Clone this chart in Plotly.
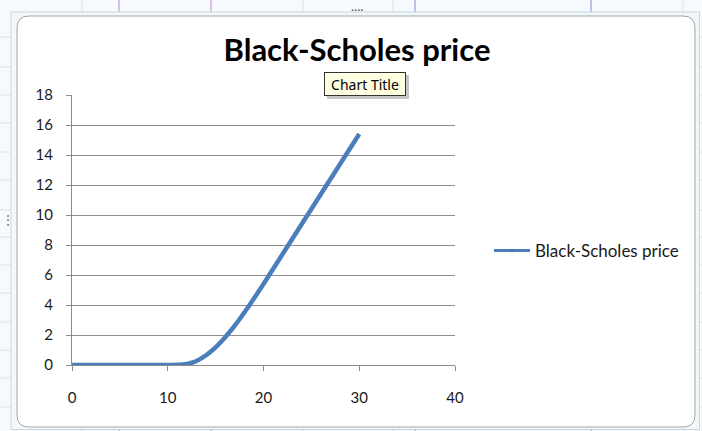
import plotly.graph_objects as go

# Underlying price and Black-Scholes call value
spot = [0, 1, 2, 3, 4, 5, 6, 7, 8, 9, 10, 10.5, 11, 11.5, 12, 12.5, 13, 13.5,
        14, 14.5, 15, 15.5, 16, 16.5, 17, 17.5, 18, 18.5, 19, 19.5, 20,
        21, 22, 23, 24, 25, 26, 27, 28, 29, 30]
price = [0, 0, 0, 0, 0, 0, 0, 0, 0, 0, 0, 0, 0.01, 0.03, 0.07, 0.15, 0.27, 0.44,
         0.65, 0.9, 1.18, 1.5, 1.85, 2.23, 2.63, 3.05, 3.5, 3.96, 4.43, 4.91, 5.4,
         6.4, 7.4, 8.4, 9.4, 10.4, 11.4, 12.4, 13.4, 14.4, 15.4]

x_ticks = [0, 10, 20, 30, 40]
y_ticks = [0, 2, 4, 6, 8, 10, 12, 14, 16, 18]

series_name = "Black-Scholes price"
chart_title = "Black-Scholes price"

W, H = 702, 431
L, R, T, B = 72, 455, 95, 365
BLUE = "#4a7ebb"
GRID = "#8c8c8c"
FONT = "Lato, 'Open Sans', sans-serif"


def px(x):
    return (x - L) / (R - L)


def py(y):
    return (B - y) / (B - T)


def rounded_rect(x0, y0, x1, y1, r):
    rx = r / (R - L)
    ry = r / (B - T)
    a, b, c, d = px(x0), px(x1), py(y0), py(y1)
    return (f"M {a + rx},{c} L {b - rx},{c} Q {b},{c} {b},{c - ry} "
            f"L {b},{d + ry} Q {b},{d} {b - rx},{d} L {a + rx},{d} "
            f"Q {a},{d} {a},{d + ry} L {a},{c - ry} Q {a},{c} {a + rx},{c} Z")


fig = go.Figure()
# the curve itself
fig.add_trace(go.Scatter(
    x=spot, y=price, mode="lines", name=series_name, showlegend=False,
    line=dict(color=BLUE, width=4.5, shape="spline", smoothing=0.7),
))
# legend entry with the thinner line and marker used by the legend key
fig.add_trace(go.Scatter(
    x=[None], y=[None], mode="lines+markers", name=series_name,
    line=dict(color=BLUE, width=3), marker=dict(color="#3f6fa8", size=3),
))

shapes = []
# worksheet cell lines around the chart object
for gx in [82, 119, 211, 303, 393, 415, 591, 683]:
    col = "#d6e2ec"
    if gx in (119, 211):
        col = "#b48ad0"
    elif gx in (415, 591):
        col = "#7a8fe0"
    shapes.append(dict(type="line", xref="paper", yref="paper",
                       x0=px(gx), x1=px(gx), y0=py(0), y1=py(12),
                       line=dict(color=col, width=1), layer="below"))
    shapes.append(dict(type="line", xref="paper", yref="paper",
                       x0=px(gx), x1=px(gx), y0=py(428), y1=py(431),
                       line=dict(color=col, width=1), layer="below"))
for gy in [37, 67, 95, 123, 152, 180, 210, 237, 265, 293, 322, 350, 378, 407]:
    for xa, xb in [(0, 11), (700, 702)]:
        shapes.append(dict(type="line", xref="paper", yref="paper",
                           x0=px(xa), x1=px(xb), y0=py(gy), y1=py(gy),
                           line=dict(color="#d6e2ec", width=1), layer="below"))
# selection frame of the chart object
shapes.append(dict(type="rect", xref="paper", yref="paper",
                   x0=px(11), x1=px(699.5), y0=py(12), y1=py(429.5),
                   line=dict(color="#c3d6e2", width=1), fillcolor="#f2f7fa",
                   layer="below"))
# chart area
shapes.append(dict(type="path", xref="paper", yref="paper",
                   path=rounded_rect(17, 16, 695, 427, 12),
                   line=dict(color="#a6a6a6", width=1), fillcolor="white",
                   layer="below"))
# tooltip shadow
shapes.append(dict(type="rect", xref="paper", yref="paper",
                   x0=px(327), x1=px(409), y0=py(75), y1=py(99),
                   line=dict(width=0), fillcolor="rgba(0,0,0,0.22)"))

annotations = [
    dict(xref="paper", yref="paper", x=px(365), y=py(84),
         xanchor="center", yanchor="middle", width=76, height=18,
         text="Chart Title", showarrow=False,
         font=dict(family="'Noto Sans', sans-serif", size=14, color="#000"),
         bgcolor="#ffffe1", bordercolor="#333", borderwidth=1, borderpad=2),
    dict(xref="paper", yref="paper", x=px(357), y=py(9),
         xanchor="center", yanchor="middle", text="····",
         showarrow=False, font=dict(size=12, color="#666")),
    dict(xref="paper", yref="paper", x=px(8), y=py(219),
         xanchor="center", yanchor="middle", text="⋮",
         showarrow=False, font=dict(size=12, color="#666")),
]

fig.update_layout(
    width=W, height=H,
    margin=dict(l=L, r=W - R, t=T, b=H - B, pad=0),
    paper_bgcolor="#f7fafc",
    plot_bgcolor="white",
    title=dict(text=f"<b>{chart_title}</b>", x=357 / W, xanchor="center",
               y=1 - 50 / H, yanchor="middle",
               font=dict(family=FONT, size=31, color="#000")),
    font=dict(family=FONT, size=15, color="#1a1a1a"),
    showlegend=True,
    legend=dict(x=px(489), y=py(251), xanchor="left", yanchor="middle",
                bgcolor="rgba(0,0,0,0)", font=dict(size=17, color="#1a1a1a"),
                itemwidth=36),
    xaxis=dict(range=[0, 40], tickvals=x_ticks, showgrid=False,
               zeroline=False, showline=True, linecolor=GRID, linewidth=1,
               ticks="outside", ticklen=5, tickcolor=GRID,
               ticklabelstandoff=14),
    yaxis=dict(range=[0, 18], tickvals=y_ticks, showgrid=True,
               gridcolor=GRID, gridwidth=1, zeroline=False,
               showline=True, linecolor=GRID, linewidth=1,
               ticks="outside", ticklen=5, tickcolor=GRID,
               ticklabelstandoff=10),
    shapes=shapes,
    annotations=annotations,
)

fig.write_html("out.html")
